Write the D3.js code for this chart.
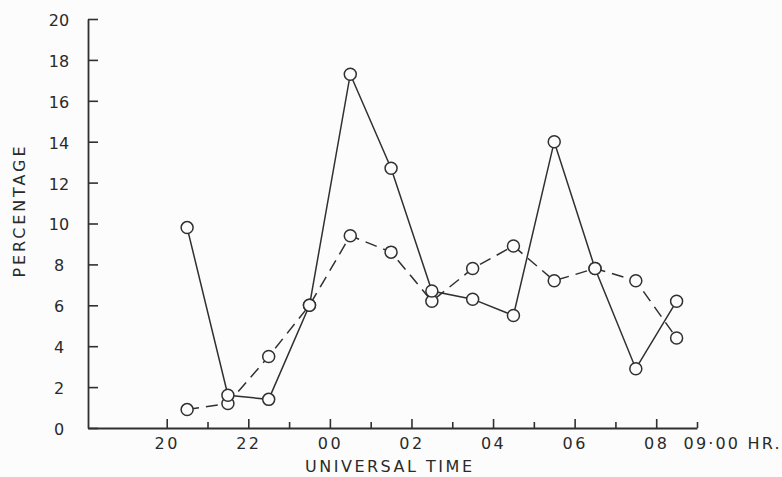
<!DOCTYPE html>
<html>
<head>
<meta charset="utf-8">
<script src="https://cdn.jsdelivr.net/npm/d3@7"></script>
<style>
  html, body { margin: 0; padding: 0; background: #fcfcfc; }
  svg { display: block; }
  text { font-family: "DejaVu Sans", sans-serif; fill: #2a2a2a; }
</style>
</head>
<body>
<svg id="chart" width="782" height="477"></svg>
<script>
// Observation hours (UT, counted on past midnight: 24.5 = 00:30)
const hours = [20.5, 21.5, 22.5, 23.5, 24.5, 25.5, 26.5, 27.5, 28.5, 29.5, 30.5, 31.5, 32.5];
// Percentage per hourly bin, solid curve
const solidSeries = [9.8, 1.6, 1.4, 6.0, 17.3, 12.7, 6.7, 6.3, 5.5, 14.0, 7.8, 2.9, 6.2];
// Percentage per hourly bin, dashed curve
const dashedSeries = [0.9, 1.2, 3.5, 6.0, 9.4, 8.6, 6.2, 7.8, 8.9, 7.2, 7.8, 7.2, 4.4];
// Axis ticks
const yTicks = [0, 2, 4, 6, 8, 10, 12, 14, 16, 18, 20];
const xTicks = [20, 21, 22, 23, 24, 25, 26, 27, 28, 29, 30, 31, 32, 33];
const xTickLabels = {20: "20", 22: "22", 24: "00", 26: "02", 28: "04", 30: "06", 32: "08", 33: "09·00 HR."};

const ink = "#303030";
const textInk = "#2a2a2a";
const svg = d3.select("#chart");

const x = d3.scaleLinear().domain([18.07, 33]).range([88, 697]);
const y = d3.scaleLinear().domain([0, 20]).range([428, 19]);

// Y axis: ticks point into the plot, labels centred to the left
const yAxis = d3.axisLeft(y)
  .tickValues(yTicks)
  .tickSizeInner(-10)
  .tickSizeOuter(0)
  .tickPadding(29)
  .tickFormat(d3.format("d"));

const gy = svg.append("g").attr("transform", `translate(${x.range()[0]},0)`).call(yAxis);
gy.select(".domain").attr("stroke", ink).attr("stroke-width", 1.8);
gy.selectAll(".tick line").attr("stroke", ink).attr("stroke-width", 1.6);
gy.selectAll(".tick text")
  .attr("text-anchor", "middle")
  .attr("dy", "0.4em")
  .style("font-size", "16px")
  .style("font-family", "'DejaVu Sans', sans-serif")
  .attr("fill", textInk);

// X axis: ticks point up; even hours longer and labelled
const xAxis = d3.axisBottom(x)
  .tickValues(xTicks)
  .tickSizeInner(0)
  .tickSizeOuter(0)
  .tickPadding(10)
  .tickFormat(d => xTickLabels[d] || "");

const gx = svg.append("g").attr("transform", `translate(0,${y(0)})`).call(xAxis);
gx.select(".domain").attr("stroke", ink).attr("stroke-width", 1.8);
gx.selectAll(".tick line")
  .attr("stroke", ink)
  .attr("stroke-width", 1.6)
  .attr("y2", d => (d % 2 === 0 ? -9 : -6));
gx.selectAll(".tick text")
  .style("font-size", "16px")
  .style("font-family", "'DejaVu Sans', sans-serif")
  .style("letter-spacing", "2.5px")
  .attr("fill", textInk);
gx.selectAll(".tick text")
  .filter(d => d === 33)
  .attr("text-anchor", "start")
  .attr("x", -14)
  .attr("textLength", 96)
  .attr("lengthAdjust", "spacing")
  .style("letter-spacing", null);

// Axis titles
svg.append("text")
  .attr("x", 305)
  .attr("y", 472)
  .attr("textLength", 167)
  .attr("lengthAdjust", "spacing")
  .style("font-size", "16px")
  .text("UNIVERSAL TIME");

svg.append("text")
  .attr("transform", "translate(25,212) rotate(-90)")
  .attr("text-anchor", "middle")
  .attr("textLength", 131)
  .attr("lengthAdjust", "spacing")
  .style("font-size", "16px")
  .text("PERCENTAGE");

// Curves
const line = d3.line()
  .x((d, i) => x(hours[i]))
  .y(d => y(d));

svg.append("path")
  .datum(dashedSeries)
  .attr("d", line)
  .attr("fill", "none")
  .attr("stroke", ink)
  .attr("stroke-width", 1.5)
  .attr("stroke-dasharray", "12,7");

svg.append("path")
  .datum(solidSeries)
  .attr("d", line)
  .attr("fill", "none")
  .attr("stroke", ink)
  .attr("stroke-width", 1.5);

// Open circle markers
const marks = [
  ...dashedSeries.map((v, i) => ({h: hours[i], v})),
  ...solidSeries.map((v, i) => ({h: hours[i], v}))
];
svg.append("g")
  .selectAll("circle")
  .data(marks)
  .join("circle")
  .attr("cx", d => x(d.h))
  .attr("cy", d => y(d.v))
  .attr("r", 6)
  .attr("fill", "#fcfcfc")
  .attr("stroke", ink)
  .attr("stroke-width", 1.5);
</script>
</body>
</html>
